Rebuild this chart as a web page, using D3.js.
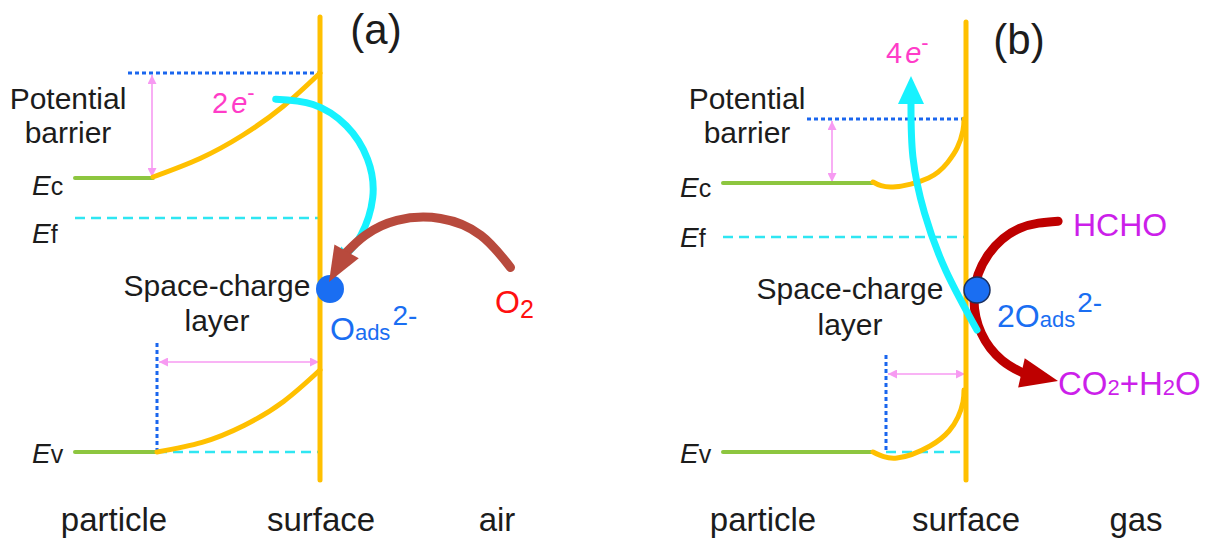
<!DOCTYPE html>
<html>
<head>
<meta charset="utf-8">
<script src="https://cdn.jsdelivr.net/npm/d3@7"></script>
<style>
  html, body { margin: 0; padding: 0; background: #fff; }
  svg { display: block; }
</style>
</head>
<body>
<svg id="fig" width="1213" height="545"></svg>
<script>
// Energy: arbitrary units above the bulk valence-band edge (Ev = 0).
// Distance: arbitrary units from the surface (negative = inside the particle).
const panelNames = ["(a)", "(b)"];
const regionLabels = [["particle", "surface", "air"], ["particle", "surface", "gas"]];
const levelKeys = ["c", "f", "v"];               // Ec, Ef, Ev
const levelsA = [2.74, 2.34, 0];
const levelsB = [2.69, 2.15, 0];
const barrierTops = [3.79, 3.33];
const barrierLineStarts = [-1.92, -1.59];
const depletionEdges = [-1.63, -0.80];
const bulkStarts = [-2.45, -2.43];
const surfaceSpan = [[-0.28, 4.35], [-0.28, 4.30]];

// Band bending near the surface: [distance, energy]
const ecBendA = [[-1.67, 2.75], [-1.20, 2.935], [-0.77, 3.17], [-0.37, 3.455], [0, 3.79]];
const evBendA = [[-1.63, 0], [-1.18, 0.096], [-0.76, 0.265], [-0.364, 0.506], [0, 0.82]];
const ecBendB = [[-0.93, 2.70], [-0.73, 2.65], [-0.375, 2.74], [-0.186, 2.893], [-0.087, 3.043], [-0.031, 3.212], [-0.02, 3.33]];
const evBendB = [[-0.93, 0], [-0.69, -0.06], [-0.36, 0.06], [-0.17, 0.21], [-0.08, 0.35], [-0.03, 0.50], [-0.02, 0.62]];

// Barrier-height marker (distance) and space-charge width marker (energy)
const barrierMarkX = [-1.68, -1.34];
const widthMarkE = [0.90, 0.78];
const edgeTopE = [1.09, 0.97];

// Charge-transfer paths: shaft points, then arrow tip
const electronPathA = [[-0.443, 3.528], [-0.069, 3.475], [0.263, 3.263], [0.475, 2.931], [0.527, 2.541], [0.408, 2.165], [0.263, 1.977]];
const electronTipA = [0.11, 1.82];
const oxygenPathA = [[1.905, 1.845], [1.609, 2.167], [1.205, 2.335], [0.769, 2.316], [0.451, 2.167], [0.256, 1.989]];
const oxygenTipA = [0.09, 1.70];
const electronPathB = [[0.11, 1.22], [-0.201, 1.813], [-0.415, 2.39], [-0.531, 2.952], [-0.55, 3.50]];
const electronTipB = [-0.55, 3.76];
const oxidationPathB = [[0.921, 2.308], [0.536, 2.236], [0.223, 1.973], [0.083, 1.589], [0.154, 1.186], [0.362, 0.915], [0.574, 0.788]];
const oxidationTipB = [0.92, 0.71];
const adsorbedO = [[0.10, 1.63], [0.11, 1.62]];

const FONT = "'Liberation Sans', Arial, Helvetica, sans-serif";
const COL = {
  orange: "#FFC000", green: "#8DC63F", cyan: "#17F2FF", fermi: "#2FE6F2",
  dotted: "#1A66EE", pink: "#F79AF2", ink: "#1c1c1c", magenta: "#FF3CC8",
  purple: "#CC1FEA", blue: "#1A6EF2", red: "#FF1010", brown: "#B84A3D", darkred: "#BE0000"
};

const svg = d3.select("#fig");
const y = d3.scaleLinear().domain([0, 4]).range([452, 52]);
const xA = d3.scaleLinear().domain([-2.45, 0]).range([75, 320]);
const xB = d3.scaleLinear().domain([-2.43, 0]).range([723, 966]);

// pink arrowhead marker
const defs = svg.append("defs");
defs.append("marker")
  .attr("id", "pinkHead").attr("viewBox", "0 0 10 10")
  .attr("refX", 10).attr("refY", 5)
  .attr("markerUnits", "userSpaceOnUse")
  .attr("markerWidth", 11).attr("markerHeight", 9)
  .attr("orient", "auto-start-reverse")
  .append("path").attr("d", "M0,0 L10,5 L0,10 z").attr("fill", COL.pink);

const smooth = d3.line().curve(d3.curveNatural);

function richText(g, x0, y0, runs, color, anchor) {
  const t = g.append("text").attr("x", x0).attr("y", y0)
    .attr("font-family", FONT).attr("fill", color)
    .attr("text-anchor", anchor || "start");
  let rise = 0;
  runs.forEach(r => {
    const span = t.append("tspan").text(r.t)
      .attr("font-size", r.s)
      .attr("font-style", r.i ? "italic" : "normal");
    const nr = r.r || 0;
    if (nr !== rise) span.attr("dy", -(nr - rise));
    if (r.dx) span.attr("dx", r.dx);
    rise = nr;
  });
  return t;
}

function curvedArrow(g, x, pts, tip, color, sw, headW) {
  const p = pts.map(d => [x(d[0]), y(d[1])]);
  const tp = [x(tip[0]), y(tip[1])];
  g.append("path").attr("d", smooth(p))
    .attr("fill", "none").attr("stroke", color)
    .attr("stroke-width", sw).attr("stroke-linecap", "round");
  const b = p[p.length - 1];
  const dx = tp[0] - b[0], dy = tp[1] - b[1];
  const len = Math.hypot(dx, dy);
  const nx = -dy / len, ny = dx / len;
  const back = [b[0] - dx / len * 2, b[1] - dy / len * 2];
  g.append("path")
    .attr("d", `M${back[0] + nx * headW / 2},${back[1] + ny * headW / 2} L${tp[0]},${tp[1]} L${back[0] - nx * headW / 2},${back[1] - ny * headW / 2} Z`)
    .attr("fill", color);
}

function drawPanel(i) {
  const x = i === 0 ? xA : xB;
  const levels = i === 0 ? levelsA : levelsB;
  const ecBend = i === 0 ? ecBendA : ecBendB;
  const evBend = i === 0 ? evBendA : evBendB;
  const g = svg.append("g").attr("class", "panel-" + i);
  const x0 = bulkStarts[i];
  const [ec, ef, ev] = levels;

  // Fermi level and the flat-band reference for the valence band
  g.append("line").attr("x1", x(x0)).attr("x2", x(0)).attr("y1", y(ef)).attr("y2", y(ef))
    .attr("stroke", COL.fermi).attr("stroke-width", 2.5).attr("stroke-dasharray", "10,6");
  g.append("line").attr("x1", x(depletionEdges[i])).attr("x2", x(0)).attr("y1", y(ev)).attr("y2", y(ev))
    .attr("stroke", COL.fermi).attr("stroke-width", 2.5).attr("stroke-dasharray", "10,6");

  // barrier top and depletion edge (dotted)
  g.append("line").attr("x1", x(barrierLineStarts[i])).attr("x2", x(0))
    .attr("y1", y(barrierTops[i])).attr("y2", y(barrierTops[i]))
    .attr("stroke", COL.dotted).attr("stroke-width", 3).attr("stroke-dasharray", "4,3");
  g.append("line").attr("x1", x(depletionEdges[i])).attr("x2", x(depletionEdges[i]))
    .attr("y1", y(edgeTopE[i])).attr("y2", y(ev))
    .attr("stroke", COL.dotted).attr("stroke-width", 3).attr("stroke-dasharray", "4,3");

  // pink dimension arrows
  g.append("line").attr("x1", x(barrierMarkX[i])).attr("x2", x(barrierMarkX[i]))
    .attr("y1", y(barrierTops[i]) + 2).attr("y2", y(ec) - 1)
    .attr("stroke", COL.pink).attr("stroke-width", 1.6)
    .attr("marker-start", "url(#pinkHead)").attr("marker-end", "url(#pinkHead)");
  g.append("line").attr("x1", x(depletionEdges[i]) + 2).attr("x2", x(0) - 1)
    .attr("y1", y(widthMarkE[i])).attr("y2", y(widthMarkE[i]))
    .attr("stroke", COL.pink).attr("stroke-width", 1.6)
    .attr("marker-start", "url(#pinkHead)").attr("marker-end", "url(#pinkHead)");

  // bulk bands (green)
  [[ec, ecBend], [ev, evBend]].forEach(([lv, bend]) => {
    g.append("line").attr("x1", x(x0)).attr("x2", x(bend[0][0])).attr("y1", y(lv)).attr("y2", y(lv))
      .attr("stroke", COL.green).attr("stroke-width", 4).attr("stroke-linecap", "round");
  });
  // bent bands (orange)
  [ecBend, evBend].forEach(bend => {
    g.append("path").attr("d", smooth(bend.map(d => [x(d[0]), y(d[1])])))
      .attr("fill", "none").attr("stroke", COL.orange).attr("stroke-width", 5)
      .attr("stroke-linecap", "round");
  });

  // surface
  g.append("line").attr("x1", x(0)).attr("x2", x(0))
    .attr("y1", y(surfaceSpan[i][1])).attr("y2", y(surfaceSpan[i][0]))
    .attr("stroke", COL.orange).attr("stroke-width", 5).attr("stroke-linecap", "round");

  // level labels
  const base = i === 0 ? [195, 243, 463] : [197, 247, 463];
  levels.forEach((lv, k) => {
    richText(g, x(x0) - 43, base[k], [
      { t: "E", s: 28, i: true },
      { t: levelKeys[k], s: 25 }
    ], COL.ink);
  });

  // bottom region labels
  const rx = i === 0 ? [114, 321, 497] : [763, 966, 1136];
  regionLabels[i].forEach((t, k) => {
    g.append("text").attr("x", rx[k]).attr("y", 531).attr("text-anchor", "middle")
      .attr("font-family", FONT).attr("font-size", 33).attr("fill", COL.ink).text(t);
  });

  // panel tag
  g.append("text").attr("x", i === 0 ? 376 : 1019).attr("y", i === 0 ? 44 : 54)
    .attr("text-anchor", "middle").attr("font-family", FONT).attr("font-size", 42)
    .attr("fill", COL.ink).text(panelNames[i]);

  // side annotations
  const pbx = i === 0 ? 68 : 747;
  g.append("text").attr("x", pbx).attr("y", 109).attr("text-anchor", "middle")
    .attr("font-family", FONT).attr("font-size", 30).attr("fill", COL.ink).text("Potential");
  g.append("text").attr("x", pbx).attr("y", 143).attr("text-anchor", "middle")
    .attr("font-family", FONT).attr("font-size", 30).attr("fill", COL.ink).text("barrier");
  const scx = i === 0 ? 217 : 850;
  const scy = i === 0 ? [296, 331] : [299, 335];
  g.append("text").attr("x", scx).attr("y", scy[0]).attr("text-anchor", "middle")
    .attr("font-family", FONT).attr("font-size", 30).attr("fill", COL.ink).text("Space-charge");
  g.append("text").attr("x", scx).attr("y", scy[1]).attr("text-anchor", "middle")
    .attr("font-family", FONT).attr("font-size", 30).attr("fill", COL.ink).text("layer");
  return g;
}

// ---- panel (a): O2 adsorption, electrons trapped at the surface
const gA = drawPanel(0);
curvedArrow(gA, xA, electronPathA, electronTipA, COL.cyan, 7, 18);
gA.append("circle").attr("cx", xA(adsorbedO[0][0])).attr("cy", y(adsorbedO[0][1])).attr("r", 14)
  .attr("fill", COL.blue);
curvedArrow(gA, xA, oxygenPathA, oxygenTipA, COL.brown, 9, 28);
richText(gA, 212, 113, [{ t: "2", s: 29 }, { t: "e", s: 29, i: true, dx: 3 }, { t: "-", s: 22, r: 13 }], COL.magenta);
richText(gA, 330, 340, [{ t: "O", s: 32 }, { t: "ads", s: 22 }, { t: "2-", s: 28, r: 15, dx: 2 }], COL.blue);
richText(gA, 495, 313, [{ t: "O", s: 32 }, { t: "2", s: 25, r: -5 }], COL.red);

// ---- panel (b): HCHO oxidation releases electrons back
const gB = drawPanel(1);
curvedArrow(gB, xB, oxidationPathB, oxidationTipB, COL.darkred, 9, 30);
curvedArrow(gB, xB, electronPathB, electronTipB, COL.cyan, 7, 26);
gB.append("circle").attr("cx", xB(adsorbedO[1][0])).attr("cy", y(adsorbedO[1][1])).attr("r", 13)
  .attr("fill", COL.blue).attr("stroke", "#1b2f5e").attr("stroke-width", 1.5);
richText(gB, 886, 63, [{ t: "4", s: 29 }, { t: "e", s: 29, i: true, dx: 3 }, { t: "-", s: 22, r: 13 }], COL.magenta);
richText(gB, 997, 327, [{ t: "2O", s: 32 }, { t: "ads", s: 22 }, { t: "2-", s: 28, r: 15, dx: 2 }], COL.blue);
richText(gB, 1073, 236, [{ t: "HCHO", s: 32 }], COL.purple);
richText(gB, 1058, 395, [{ t: "CO", s: 33 }, { t: "2", s: 22 }, { t: "+H", s: 33 }, { t: "2", s: 22 }, { t: "O", s: 33 }], COL.purple);
</script>
</body>
</html>
